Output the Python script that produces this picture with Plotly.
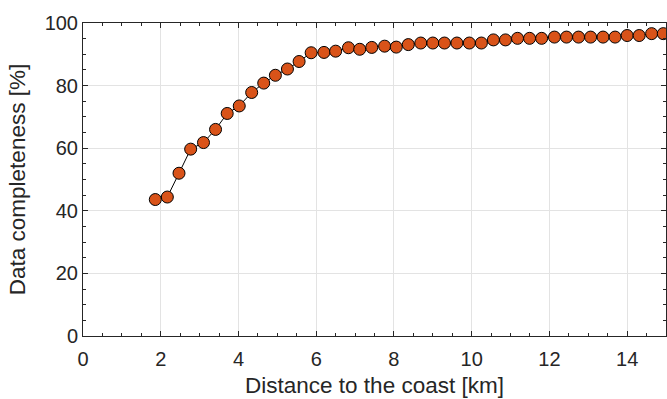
import plotly.graph_objects as go

distance_km = [1.86, 2.17, 2.47, 2.77, 3.10, 3.41, 3.71, 4.02, 4.34, 4.65,
               4.95, 5.26, 5.56, 5.87, 6.20, 6.50, 6.83, 7.12, 7.43, 7.76,
               8.06, 8.37, 8.69, 9.00, 9.30, 9.62, 9.94, 10.25, 10.56, 10.87,
               11.18, 11.49, 11.80, 12.13, 12.44, 12.75, 13.06, 13.38, 13.69, 14.00,
               14.31, 14.63, 14.93]
completeness = [43.6, 44.4, 52.0, 59.7, 61.8, 66.0, 71.1, 73.5, 77.8, 80.8,
                83.3, 85.3, 87.7, 90.5, 90.6, 91.0, 92.1, 91.6, 92.2, 92.6,
                92.3, 93.1, 93.6, 93.6, 93.6, 93.6, 93.6, 93.6, 94.6, 94.6,
                95.1, 95.1, 95.1, 95.5, 95.5, 95.5, 95.5, 95.5, 95.5, 96.0,
                96.0, 96.6, 96.6]
x_ticks = [0, 2, 4, 6, 8, 10, 12, 14]
y_ticks = [0, 20, 40, 60, 80, 100]

FONT = "Liberation Sans, Arial, Helvetica, sans-serif"
AX = "#262626"

fig = go.Figure()
fig.add_trace(go.Scatter(
    x=distance_km, y=completeness, mode="lines+markers",
    line=dict(color="black", width=1),
    marker=dict(size=12, color="#D95319", line=dict(color="black", width=1)),
    cliponaxis=False, showlegend=False,
))

axis_common = dict(
    showline=True, linecolor=AX, linewidth=1, mirror="ticks",
    ticks="inside", ticklen=5, tickcolor=AX, tickwidth=1,
    showgrid=True, gridcolor="#e3e3e3", gridwidth=1,
    zeroline=False, tickfont=dict(family=FONT, size=20, color=AX),
)

fig.update_xaxes(
    range=[0, 15], tickvals=x_ticks, ticktext=[str(v) for v in x_ticks],
    minor=dict(dtick=0.5, ticks="inside", ticklen=3, tickcolor=AX, showgrid=False),
    ticklabelstandoff=5,
    title=dict(text="Distance to the coast [km]", font=dict(family=FONT, size=22.5, color=AX), standoff=8),
    **axis_common,
)
fig.update_yaxes(
    range=[0, 100], tickvals=y_ticks, ticktext=[str(v) for v in y_ticks],
    minor=dict(dtick=5, ticks="inside", ticklen=3, tickcolor=AX, showgrid=False),
    title=dict(text="Data completeness [%]", font=dict(family=FONT, size=22.5, color=AX), standoff=12),
    **axis_common,
)

fig.update_layout(
    width=667, height=399,
    margin=dict(l=83, r=1, t=23, b=63),
    plot_bgcolor="white", paper_bgcolor="white",
)

fig.write_html(
    "out.html",
    config={"displayModeBar": False},
    post_script="document.body.style.margin='0';document.body.style.overflow='hidden';",
)
